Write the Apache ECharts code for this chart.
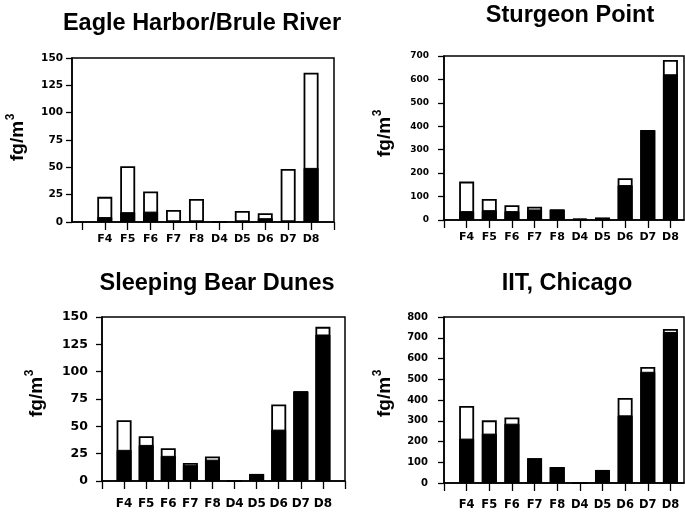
<!DOCTYPE html>
<html>
<head>
<meta charset="utf-8">
<script src="https://cdn.jsdelivr.net/npm/echarts@6/dist/echarts.min.js"></script>
<style>html,body{margin:0;padding:0;background:#fff}#c{width:685px;height:515px}</style>
</head>
<body>
<div id="c"></div>
<script>
const categories = ['F4','F5','F6','F7','F8','D4','D5','D6','D7','D8'];
const titles = ['Eagle Harbor/Brule River','Sturgeon Point','Sleeping Bear Dunes','IIT, Chicago'];
const yName = 'fg/m';
const ySup = '3';

// black = lower (filled) part, total = top of the whole (white-topped) bar
const eagleBlack = [4.5, 9, 9.5, 0, 0, 0, 0, 3.5, 0, 49.5];
const eagleTotal = [23, 51, 28, 11, 21, 0, 10, 8, 48.5, 136.5];
const sturgeonBlack = [38, 42, 38, 45, 45, 6, 3, 149, 384, 622];
const sturgeonTotal = [164, 90, 63, 57, 45, 6, 11, 178, 384, 683];
const bearBlack = [28.5, 33, 23, 14.5, 19.5, 0, 6.5, 47, 82, 134];
const bearTotal = [55.5, 41, 30, 16.5, 22.5, 0, 6.5, 70, 82, 141];
const iitBlack = [214, 238, 286, 119, 77, 0, 63, 326, 536, 728];
const iitTotal = [371, 302, 316, 119, 77, 0, 63, 410, 559, 742];

const yMax = [150, 700, 150, 800];
const yStep = [25, 100, 25, 100];

const panels = [
  {grid:{left:72, top:58, width:262, height:164}, xmin:-0.43, xmax:11, ticks:[0,1,2,3,4,5,6,7,8,9,10,11],
   black:eagleBlack, total:eagleTotal, ySize:10.5, yMargin:9, xSize:11, xMargin:12,
   title:[202, 24], name:[18, 137]},
  {grid:{left:444, top:56, width:240, height:164}, xmin:0, xmax:10.6, ticks:[0,1,2,3,4,5,6,7,8,9,10],
   black:sturgeonBlack, total:sturgeonTotal, ySize:9, yMargin:15, xSize:11, xMargin:12,
   title:[570, 16], name:[385, 133]},
  {grid:{left:102, top:317, width:243, height:164}, xmin:0, xmax:11, ticks:[0,1,2,3,4,5,6,7,8,9,10,11],
   black:bearBlack, total:bearTotal, ySize:12.5, yMargin:14, xSize:12, xMargin:17,
   title:[217, 284], name:[37, 393]},
  {grid:{left:444, top:317, width:240, height:166}, xmin:0, xmax:10.6, ticks:[0,1,2,3,4,5,6,7,8,9,10],
   black:iitBlack, total:iitTotal, ySize:10, yMargin:16, xSize:11.5, xMargin:16,
   title:[567, 284], name:[385, 393]}
];

const chart = echarts.init(document.getElementById('c'), null, {renderer:'canvas'});
const grid = [], xAxis = [], yAxis = [], series = [], graphic = [];
const slots = categories.map((c, i) => i + 1);

panels.forEach((p, k) => {
  grid.push(Object.assign({show:true, borderColor:'#000', borderWidth:1.5, backgroundColor:'transparent'}, p.grid));
  xAxis.push({
    type:'value', gridIndex:k, min:p.xmin, max:p.xmax, position:'bottom',
    splitLine:{show:false},
    axisLine:{show:true, lineStyle:{color:'#000', width:1.5}},
    axisTick:{show:true, inside:false, length:8, lineStyle:{color:'#000', width:1.3}, customValues:p.ticks},
    axisLabel:{show:true, margin:p.xMargin, customValues:slots, color:'#000',
      fontFamily:'DejaVu Sans', fontWeight:'bold', fontSize:p.xSize,
      formatter:(v) => categories[Math.round(v) - 1] || ''}
  });
  yAxis.push({
    type:'value', gridIndex:k, min:0, max:yMax[k], interval:yStep[k],
    splitLine:{show:false},
    axisLine:{show:true, onZero:false, lineStyle:{color:'#000', width:1.5}},
    axisTick:{show:true, inside:false, length:6, lineStyle:{color:'#000', width:1.3}},
    axisLabel:{margin:p.yMargin, color:'#000', fontFamily:'DejaVu Sans', fontWeight:'bold', fontSize:p.ySize}
  });
  series.push({
    type:'bar', xAxisIndex:k, yAxisIndex:k, barWidth:15, barGap:'-100%',
    itemStyle:{color:'#fff', borderColor:'#000', borderWidth:1.8},
    data:p.total.map((v, i) => [slots[i], v]), silent:true, animation:false
  });
  series.push({
    type:'bar', xAxisIndex:k, yAxisIndex:k, barWidth:15, barGap:'-100%',
    itemStyle:{color:'#000', borderColor:'#000', borderWidth:1},
    data:p.black.map((v, i) => [slots[i], v]), silent:true, animation:false
  });
  graphic.push({
    type:'text', x:p.title[0], y:p.title[1], silent:true,
    style:{text:titles[k], fill:'#000', font:'bold 23.5px "Liberation Sans", Arial, sans-serif',
      align:'center', verticalAlign:'middle', textAlign:'center', textVerticalAlign:'middle'}
  });
  graphic.push({
    type:'group', x:p.name[0], y:p.name[1], rotation:Math.PI/2, silent:true,
    children:[
      {type:'text', x:-4, y:0, style:{text:yName, fill:'#000', font:'bold 19px "Liberation Sans", Arial, sans-serif',
        align:'center', verticalAlign:'middle', textAlign:'center', textVerticalAlign:'middle'}},
      {type:'text', x:20, y:-7, style:{text:ySup, fill:'#000', font:'bold 12px "Liberation Sans", Arial, sans-serif',
        align:'center', verticalAlign:'middle', textAlign:'center', textVerticalAlign:'middle'}}
    ]
  });
});

chart.setOption({animation:false, backgroundColor:'#fff', grid, xAxis, yAxis, series, graphic});
</script>
</body>
</html>
